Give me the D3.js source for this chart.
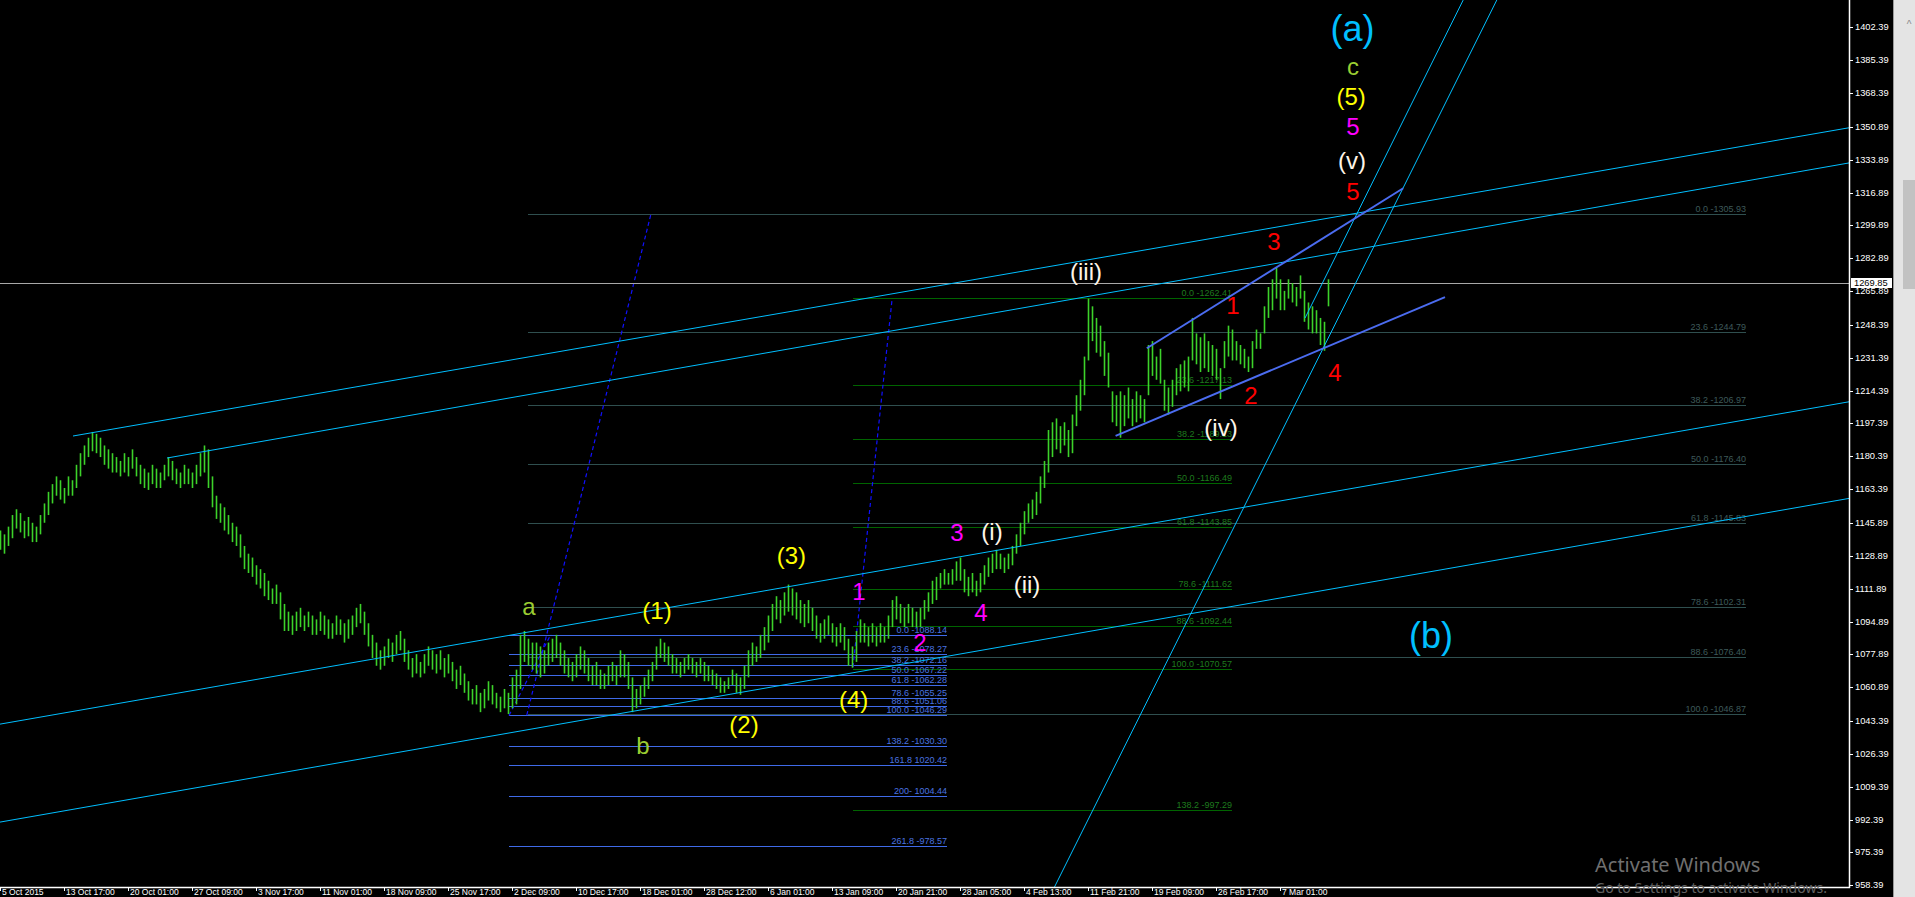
<!DOCTYPE html>
<html><head><meta charset="utf-8">
<script src="https://cdn.jsdelivr.net/npm/d3@7"></script>
<style>html,body{margin:0;padding:0;background:#000;overflow:hidden}</style>
</head><body>
<svg id="c" width="1915" height="897"></svg>
<script>
// ---- price bars (8H-ish sampling), highs and lows ----
const highs=[1142,1140,1144,1150,1153,1151,1147,1149,1146,1144,1150,1156,1162,1166,1170,1168,1164,1170,1168,1176,1182,1186,1190,1193,
1192,1190,1186,1184,1182,1180,1178,1182,1180,1184,1180,1176,1174,1172,1176,1174,1172,1176,1180,1178,1174,1172,1176,1174,1172,1176,1182,1186,1184,
1170,1160,1156,1154,1150,1146,1144,1140,1134,1130,1128,1124,1122,1120,1116,1112,1114,1110,1104,1100,1098,
1100,1102,1098,1100,1098,1096,1100,1098,1096,1094,1098,1096,1094,1096,1098,1102,1104,1100,1094,
1088,1084,1080,1082,1086,1084,1088,1090,1086,1080,1076,1078,1074,1078,1082,1080,1078,1080,1076,1078,1074,1070,1072,1068,1064,1060,1062,1058,1060,1064,1062,1058,1056,1060,1058,
1066,1070,1088,1090,1086,1084,
1084,1082,1080,1084,1086,1088,1084,1080,1076,1074,1078,1082,1080,1076,1072,1074,1070,1068,1072,1074,1072,1080,1078,1074,1066,1060,1062,1066,1070,1074,1082,1086,1084,1082,1078,1076,1074,1076,1078,1076,1074,1076,1074,1072,1070,1068,1066,1064,1066,1070,
1068,1066,1072,1080,1084,1082,1088,1092,1098,1104,1108,1106,1110,1114,1112,
1110,1106,1104,1106,1102,1098,1094,1096,1098,1094,1092,1094,1092,1086,1082,
1090,1096,1094,1092,1094,1092,1094,1092,1098,1106,1108,1104,1102,1104,1102,1100,1102,1106,1110,1116,1118,1120,1122,1120,1122,1126,1128,1122,1118,1120,1116,1120,1124,1128,1130,1132,1130,1128,1130,1134,1140,1146,
1152,1156,1158,1162,1170,1178,1194,1198,1200,1196,1198,1194,1202,1212,1220,1232,1262,
1258,1252,1248,1240,1234,1214,1212,1214,1212,1216,1210,1214,1212,1210,1238,1240,1232,1236,1220,1216,1220,1226,1228,1230,1232,1252,1244,1242,1244,1240,1238,1236,1226,1240,1248,1246,1240,1238,1236,1232,1240,1246,1244,1258,1268,1272,1278,1272,1266,1272,1270,1268,1274,1266,1260,1258,1256,1252,1250,1272];
const lows=[1132,1130,1134,1138,1143,1141,1138,1139,1136,1136,1140,1146,1150,1156,1160,1158,1156,1160,1160,1164,1170,1176,1180,1183,
1182,1180,1176,1174,1172,1172,1170,1172,1170,1174,1170,1166,1164,1163,1166,1164,1164,1168,1170,1168,1166,1164,1166,1166,1164,1166,1170,1172,1164,
1154,1148,1146,1142,1140,1136,1134,1128,1122,1120,1118,1114,1112,1108,1106,1104,1104,1096,1090,1090,1088,
1090,1092,1090,1092,1088,1088,1090,1088,1086,1086,1088,1088,1084,1086,1088,1092,1094,1088,1082,
1076,1072,1070,1072,1076,1074,1078,1080,1074,1070,1066,1068,1066,1068,1072,1070,1068,1070,1066,1068,1064,1060,1062,1058,1054,1052,1052,1048,1050,1054,1052,1050,1048,1050,1047,
1050,1052,1060,1074,1072,1070,
1068,1066,1068,1072,1074,1076,1072,1068,1066,1064,1066,1070,1068,1064,1062,1062,1060,1060,1062,1064,1062,1066,1066,1060,1048,1050,1052,1056,1060,1064,1070,1076,1074,1072,1068,1068,1066,1068,1070,1068,1066,1068,1064,1064,1062,1060,1058,1058,1060,1062,
1058,1057,1060,1066,1072,1074,1076,1080,1084,1090,1096,1094,1098,1100,1098,
1096,1094,1092,1094,1090,1086,1084,1086,1088,1084,1082,1084,1080,1072,1071,
1074,1084,1084,1082,1084,1082,1084,1084,1086,1092,1096,1094,1092,1094,1092,1092,1092,1096,1100,1104,1106,1112,1114,1114,1114,1116,1116,1110,1108,1110,1108,1110,1114,1118,1120,1122,1122,1120,1122,1124,1130,1134,
1140,1146,1148,1150,1156,1164,1172,1180,1184,1182,1186,1180,1182,1196,1204,1212,1230,
1240,1234,1232,1222,1216,1198,1196,1190,1196,1200,1196,1198,1200,1198,1212,1222,1220,1218,1204,1202,1206,1212,1214,1216,1214,1230,1228,1224,1226,1224,1222,1220,1210,1226,1232,1230,1230,1228,1226,1224,1226,1236,1236,1244,1252,1256,1262,1256,1256,1262,1260,1258,1262,1250,1246,1244,1244,1238,1235,1258];
const lastPrice=1269.85;

// ---- axis labels ----
const priceTicks=[1402.39,1385.39,1368.39,1350.89,1333.89,1316.89,1299.89,1282.89,1265.89,1248.39,1231.39,1214.39,1197.39,1180.39,1163.39,1145.89,1128.89,1111.89,1094.89,1077.89,1060.89,1043.39,1026.39,1009.39,992.39,975.39,958.39];
const dateLabels=["5 Oct 2015","13 Oct 17:00","20 Oct 01:00","27 Oct 09:00","3 Nov 17:00","11 Nov 01:00","18 Nov 09:00","25 Nov 17:00","2 Dec 09:00","10 Dec 17:00","18 Dec 01:00","28 Dec 12:00","6 Jan 01:00","13 Jan 09:00","20 Jan 21:00","28 Jan 05:00","4 Feb 13:00","11 Feb 21:00","19 Feb 09:00","26 Feb 17:00","7 Mar 01:00"];
const dateStep=16;

// ---- fibonacci sets ----
const fibALabels=["0.0 -1088.14","23.6 -1078.27","38.2 -1072.16","50.0 -1067.22","61.8 -1062.28","78.6 -1055.25","88.6 -1051.06","100.0 -1046.29","138.2 -1030.30","161.8 1020.42","200- 1004.44","261.8 -978.57"];
const fibAValues=[1088.14,1078.27,1072.16,1067.22,1062.28,1055.25,1051.06,1046.29,1030.30,1020.42,1004.44,978.57];
const fibASpan=[127.25,236.75];
const fibBLabels=["0.0 -1262.41","23.6 -1217.13","38.2 -1189.13","50.0 -1166.49","61.8 -1143.85","78.6 -1111.62","88.6 -1092.44","100.0 -1070.57","138.2 -997.29"];
const fibBValues=[1262.41,1217.13,1189.13,1166.49,1143.85,1111.62,1092.44,1070.57,997.29];
const fibBSpan=[213.25,308];
const fibCLabels=["0.0 -1305.93","23.6 -1244.79","38.2 -1206.97","50.0 -1176.40","61.8 -1145.83","78.6 -1102.31","88.6 -1076.40","100.0 -1046.87"];
const fibCValues=[1305.93,1244.79,1206.97,1176.40,1145.83,1102.31,1076.40,1046.87];
const fibCSpan=[132,436.5];

// ---- trend / channel lines: [[index,price],[index,price]] ----
const channelLines=[
 [[18.25,1190.9],[462.25,1350.4]],
 [[41.75,1179.5],[462.25,1332.2]],
 [[0,1041.8],[462.25,1208.6]],
 [[0,991.1],[462.25,1158.6]],
 [[263.5,957.0],[374.2,1416.5]],
 [[326.25,1251.9],[365.8,1416.5]]
];
const wedgeLines=[
 [[286.7,1236.3],[350.8,1319.1]],
 [[278.9,1191.0],[361.25,1262.8]]
];
const dashedLines=[
 [[131.7,1046.5],[162.75,1305.9]],
 [[213.25,1071.3],[223,1261.3]],
 [[127.25,1046.29],[137.7,1088.14]]
];

// ---- wave labels: text, index, price, colour, size ----
const waveLabels=[
 ["(a)",338.1,1401.8,"#00BFFF",36],
 ["c",338.25,1381.9,"#9ACD32",24],
 ["(5)",337.8,1366.8,"#FFFF00",24],
 ["5",338.25,1351.3,"#FF00FF",24],
 ["(v)",338,1333.7,"#FFF5E8",24],
 ["5",338.25,1317.2,"#FF0000",24],
 ["(b)",357.75,1087.9,"#00BFFF",36],
 ["(iii)",271.5,1275.8,"#FFF5E8",24],
 ["(iv)",305.25,1195.5,"#FFF5E8",24],
 ["(i)",248,1141.7,"#FFF5E8",24],
 ["(ii)",256.75,1114.3,"#FFF5E8",24],
 ["1",214.75,1110.2,"#FF00FF",24],
 ["2",230,1083.8,"#FF00FF",24],
 ["3",239.25,1141.2,"#FF00FF",24],
 ["4",245.25,1099.8,"#FF00FF",24],
 ["1",308.25,1258.2,"#FF0000",24],
 ["2",312.75,1212.1,"#FF0000",24],
 ["3",318.5,1291.8,"#FF0000",24],
 ["4",333.75,1224.0,"#FF0000",24],
 ["a",132.25,1102.9,"#9ACD32",24],
 ["b",160.75,1030.5,"#9ACD32",24],
 ["(1)",164.25,1100.5,"#FFFF00",24],
 ["(2)",186,1041.8,"#FFFF00",24],
 ["(3)",197.85,1128.9,"#FFFF00",24],
 ["(4)",213.4,1054.4,"#FFFF00",24]
];

// ================= drawing =================
const svg=d3.select("#c");
const W=1915,H=897,PR=1849,PB=887;
const x=d3.scaleLinear().domain([0,332]).range([0,1328]);
const y=d3.scaleLinear().domain([957.0,1416.52]).range([888,0]);
const FONT="'Liberation Sans', Arial, sans-serif";

svg.append("rect").attr("width",W).attr("height",H).attr("fill","#000");
const defs=svg.append("defs");
defs.append("clipPath").attr("id","plot").append("rect").attr("x",0).attr("y",0).attr("width",PR).attr("height",PB);
const g=svg.append("g").attr("clip-path","url(#plot)");
const line=d3.line().x(d=>x(d[0])).y(d=>y(d[1]));

function fib(labels,values,span,lineColor,textColor){
  const fg=g.append("g");
  values.forEach((v,k)=>{
    fg.append("line").attr("x1",x(span[0])).attr("x2",x(span[1]))
      .attr("y1",Math.round(y(v))+0.5).attr("y2",Math.round(y(v))+0.5)
      .attr("stroke",lineColor).attr("stroke-width",1);
    fg.append("text").attr("x",x(span[1])).attr("y",Math.round(y(v))-2)
      .attr("text-anchor","end").attr("font-family",FONT).attr("font-size",9)
      .attr("fill",textColor).text(labels[k]);
  });
}
fib(fibCLabels,fibCValues,fibCSpan,"#2F4F4F","#3E5A5A");
fib(fibBLabels,fibBValues,fibBSpan,"#006400","#1E7A1E");
fib(fibALabels,fibAValues,fibASpan,"#3F6AE8","#4A74E0");

// dashed fib connectors
dashedLines.forEach(l=>g.append("path").attr("d",line(l)).attr("stroke","#1010FF")
  .attr("stroke-width",1.2).attr("stroke-dasharray","4,3").attr("fill","none"));

// current price line
g.append("line").attr("x1",0).attr("x2",PR).attr("y1",Math.round(y(lastPrice))+0.5).attr("y2",Math.round(y(lastPrice))+0.5)
  .attr("stroke","#A8A8A8").attr("stroke-width",1);

// bars
g.append("g").selectAll("line").data(highs).join("line")
  .attr("x1",(d,i)=>x(i)+0.5).attr("x2",(d,i)=>x(i)+0.5)
  .attr("y1",d=>y(d)).attr("y2",(d,i)=>y(lows[i]))
  .attr("stroke","#3CD22A").attr("stroke-width",1.6);

// channel lines
channelLines.forEach(l=>g.append("path").attr("d",line(l)).attr("stroke","#00BFFF")
  .attr("stroke-width",1).attr("fill","none"));
// wedge lines
wedgeLines.forEach(l=>g.append("path").attr("d",line(l)).attr("stroke","#4B6CF0")
  .attr("stroke-width",2).attr("fill","none"));

// wave labels
g.append("g").selectAll("text").data(waveLabels).join("text")
  .attr("x",d=>x(d[1])).attr("y",d=>y(d[2]))
  .attr("text-anchor","middle").attr("dominant-baseline","central")
  .attr("font-family",FONT).attr("font-size",d=>d[4]).attr("fill",d=>d[3]).text(d=>d[0]);

// axes
svg.append("line").attr("x1",PR+0.5).attr("x2",PR+0.5).attr("y1",0).attr("y2",PB+1).attr("stroke","#fff").attr("stroke-width",1.5);
svg.append("line").attr("x1",0).attr("x2",PR+1).attr("y1",PB+0.5).attr("y2",PB+0.5).attr("stroke","#fff").attr("stroke-width",1.5);
const ra=svg.append("g");
priceTicks.forEach(v=>{
  const yy=Math.round(y(v));
  ra.append("line").attr("x1",PR+1).attr("x2",PR+4).attr("y1",yy+0.5).attr("y2",yy+0.5).attr("stroke","#fff");
  ra.append("text").attr("x",PR+6).attr("y",yy).attr("dominant-baseline","central")
    .attr("font-family",FONT).attr("font-size",9.3).attr("fill","#fff").text(v.toFixed(2));
});
// current price box
const yp=Math.round(y(lastPrice));
ra.append("rect").attr("x",PR+2).attr("y",yp-5).attr("width",41).attr("height",10).attr("fill","#fff");
ra.append("text").attr("x",PR+5).attr("y",yp).attr("dominant-baseline","central")
  .attr("font-family",FONT).attr("font-size",9.3).attr("fill","#000").text(lastPrice.toFixed(2));

const ba=svg.append("g");
dateLabels.forEach((t,k)=>{
  const xx=Math.round(x(k*dateStep));
  ba.append("line").attr("x1",xx+0.5).attr("x2",xx+0.5).attr("y1",PB+1).attr("y2",PB+4).attr("stroke","#fff");
  ba.append("text").attr("x",xx+2).attr("y",PB+2).attr("dominant-baseline","hanging")
    .attr("font-family",FONT).attr("font-size",8.5).attr("fill","#fff").text(t);
});

// scrollbar panel
svg.append("rect").attr("x",1893).attr("y",0).attr("width",22).attr("height",H).attr("fill","#E4E4E4");
svg.append("line").attr("x1",1893.5).attr("x2",1893.5).attr("y1",0).attr("y2",H).attr("stroke","#9A9A9A");
svg.append("rect").attr("x",1903).attr("y",180).attr("width",12).attr("height",109).attr("fill","#C2C2C2");
svg.append("text").attr("x",1909).attr("y",28).attr("text-anchor","middle").attr("font-family",FONT)
  .attr("font-size",10).attr("fill","#888").text("^");

// windows watermark
svg.append("text").attr("x",1595).attr("y",872).attr("font-family","'Noto Sans', 'Open Sans', sans-serif")
  .attr("font-size",20).attr("fill","#707070").text("Activate Windows");
svg.append("text").attr("x",1595).attr("y",893).attr("font-family","'Noto Sans', 'Open Sans', sans-serif")
  .attr("font-size",14).attr("fill","#606060").text("Go to Settings to activate Windows.");
</script>
</body></html>
